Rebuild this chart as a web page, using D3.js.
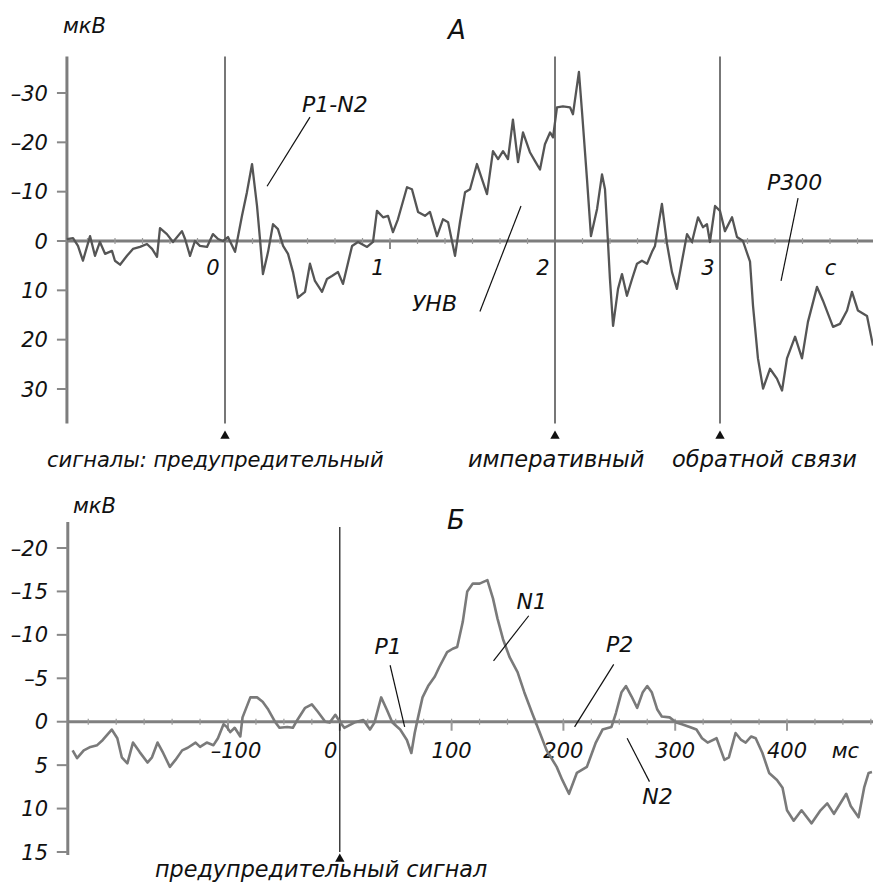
<!DOCTYPE html>
<html>
<head>
<meta charset="utf-8">
<script src="https://cdn.jsdelivr.net/npm/d3@7"></script>
<style>
  body { margin: 0; background: #fff; }
  text { font-family: "DejaVu Sans", sans-serif; font-style: italic; fill: #111; }
</style>
</head>
<body>
<div id="chart"></div>
<script>
const width = 873;
const height = 885;

// panel A: slow potentials, time in s, amplitude in µV (negative up)
const traceA = [
  [-0.958,-0.4],[-0.921,-0.6],[-0.891,1.0],[-0.861,4.0],[-0.818,-1.0],[-0.788,3.0],[-0.758,0.2],
  [-0.727,2.6],[-0.685,2.0],[-0.667,4.0],[-0.636,4.8],[-0.594,3.0],[-0.558,1.6],[-0.515,1.2],
  [-0.473,0.6],[-0.442,1.6],[-0.412,3.2],[-0.394,-2.6],[-0.352,-1.4],[-0.315,0.2],[-0.261,-2.0],
  [-0.242,-0.4],[-0.212,3.0],[-0.182,0],[-0.152,1.0],[-0.109,1.2],[-0.073,-1.4],[-0.042,-0.4],
  [-0.012,0],[0.018,-0.8],[0.061,2.2],[0.103,-5.1],[0.133,-9.9],[0.164,-15.6],[0.194,-7.1],
  [0.212,-0.4],[0.230,6.7],[0.261,2.2],[0.291,-3.4],[0.321,-2.4],[0.352,1.0],[0.382,2.6],
  [0.412,6.3],[0.442,11.5],[0.485,10.3],[0.515,4.6],[0.545,8.1],[0.588,10.3],[0.618,7.7],
  [0.648,7.1],[0.685,6.3],[0.715,8.7],[0.770,1.0],[0.806,0.2],[0.861,1.2],[0.897,0.2],
  [0.921,-6.1],[0.958,-4.8],[0.988,-5.1],[1.018,-1.8],[1.048,-4.4],[1.103,-10.9],[1.133,-10.5],
  [1.170,-5.9],[1.212,-5.1],[1.242,-5.9],[1.285,-1.0],[1.321,-4.4],[1.352,-3.8],[1.394,3.0],
  [1.424,-3.8],[1.455,-9.9],[1.485,-10.5],[1.527,-15.6],[1.558,-12.5],[1.588,-9.5],[1.624,-18.2],
  [1.655,-16.6],[1.685,-18.2],[1.715,-16.6],[1.745,-24.6],[1.776,-16.0],[1.806,-22.0],[1.848,-18.0],
  [1.879,-16.2],[1.909,-14.5],[1.939,-19.6],[1.970,-22.0],[1.988,-21.0],[2.012,-27.1],[2.048,-27.3],
  [2.091,-27.1],[2.109,-25.7],[2.145,-34.3],[2.164,-26.1],[2.194,-12.5],[2.218,-1.0],[2.255,-6.5],
  [2.285,-13.5],[2.303,-10.5],[2.321,0.2],[2.333,7.7],[2.352,17.2],[2.382,9.7],[2.406,6.7],
  [2.436,11.1],[2.467,7.7],[2.497,4.6],[2.527,4.0],[2.558,4.6],[2.588,2.2],[2.606,1.0],
  [2.648,-7.5],[2.679,0.6],[2.709,6.3],[2.739,9.7],[2.770,4.0],[2.800,-1.4],[2.830,0.2],
  [2.867,-4.8],[2.897,-2.8],[2.921,-3.4],[2.939,0.2],[2.970,-7.1],[3.000,-6.1],[3.030,-2.0],
  [3.073,-4.8],[3.103,-0.8],[3.139,0],[3.182,4.2],[3.200,13.1],[3.230,23.8],[3.261,29.9],
  [3.303,25.9],[3.345,27.9],[3.376,30.3],[3.406,23.8],[3.455,19.4],[3.497,23.8],[3.533,16.4],
  [3.588,9.3],[3.624,12.1],[3.685,17.4],[3.727,16.8],[3.770,14.1],[3.800,10.3],[3.836,14.1],
  [3.891,15.2],[3.927,21.2]
];
const yTicksA = [-30, -20, -10, 0, 10, 20, 30];
const xTicksA = [0, 1, 2, 3];
const signalsA = [0, 2, 3];
const signalNamesA = ["сигналы: предупредительный", "императивный", "обратной связи"];
const notesA = [
  { text: "P1-N2", at: [0.467, -26.1], from: [0.515, -25.1], to: [0.255, -11.1] },
  { text: "УНВ", at: [1.133, 14.1], from: [1.794, -7.1], to: [1.545, 14.3] },
  { text: "P300", at: [3.285, -10.3], from: [3.473, -8.7], to: [3.370, 8.1] }
];

// panel B: evoked potential, time in ms, amplitude in µV (negative up)
const traceB = [
  [-239,3.3],[-235,4.2],[-229,3.3],[-223,2.9],[-217,2.7],[-212,2.1],[-204,0.9],[-199,1.9],
  [-195,4.1],[-190,4.8],[-185,2.4],[-179,3.5],[-172,4.7],[-168,4.1],[-163,2.4],[-158,3.6],
  [-152,5.2],[-147,4.4],[-141,3.3],[-136,3.0],[-129,2.4],[-125,2.9],[-119,2.4],[-113,2.7],
  [-109,1.9],[-104,0.3],[-101,0.6],[-98,1.2],[-94,0.7],[-89,1.7],[-87,-0.5],[-80,-2.8],
  [-74,-2.8],[-69,-2.3],[-64,-1.4],[-58,0],[-54,0.7],[-47,0.6],[-42,0.7],[-38,-0.2],
  [-31,-1.6],[-25,-2.0],[-20,-1.2],[-13,0],[-9,0.1],[-4,-0.8],[0,0],[4,0.7],[13,0.1],
  [21,-0.2],[27,0.9],[31,0.1],[37,-2.8],[42,-1.4],[47,0.1],[54,0.9],[60,2.1],[64,3.6],
  [67,1.3],[70,-0.5],[74,-2.8],[79,-4.1],[85,-5.2],[89,-6.3],[96,-8.0],[101,-8.4],[105,-8.6],
  [110,-11.5],[114,-15.0],[119,-15.9],[125,-15.9],[132,-16.3],[137,-14.2],[141,-11.9],
  [146,-9.5],[152,-7.4],[159,-5.7],[165,-3.4],[172,-1.0],[179,1.3],[185,3.3],[194,5.2],
  [199,6.7],[205,8.3],[212,5.9],[221,5.2],[229,2.4],[235,0.9],[243,0.6],[247,-1.0],[252,-3.4],
  [256,-4.1],[261,-2.9],[266,-1.6],[271,-3.4],[275,-4.1],[279,-3.4],[284,-1.4],[288,-0.6],
  [295,-0.5],[301,0.1],[306,0.3],[313,0.6],[319,0.9],[324,1.9],[329,2.4],[337,1.9],[344,4.4],
  [348,4.1],[354,1.3],[359,2.1],[363,2.4],[368,1.7],[372,1.9],[378,3.6],[384,5.9],[391,6.7],
  [396,7.6],[400,10.2],[406,11.4],[413,10.2],[422,11.7],[430,10.2],[436,9.4],[442,10.6],
  [453,8.3],[457,9.7],[464,11.0],[469,7.6],[473,5.9],[476,5.8]
];
const yTicksB = [-20, -15, -10, -5, 0, 5, 10, 15];
const xTicksB = [-100, 0, 100, 200, 300, 400];
const signalNameB = "предупредительный сигнал";
const notesB = [
  { text: "P1", at: [31, -7.8], from: [45, -6.5], to: [58, 0.6] },
  { text: "N1", at: [158, -13.0], from: [169, -12.2], to: [137.5, -7.0] },
  { text: "P2", at: [238, -8.0], from: [245, -6.6], to: [210, 0.6] },
  { text: "N2", at: [270.5, 9.5], from: [277, 6.9], to: [257, 1.9] }
];

const fmt = (d) => (d < 0 ? "–" + Math.abs(d) : String(d));

const svg = d3
  .select("#chart")
  .append("svg")
  .attr("width", width)
  .attr("height", height);

// ---------- panel A ----------
const xA = d3.scaleLinear().domain([0, 3]).range([225, 720]);
const yA = d3.scaleLinear().domain([-30, 30]).range([93, 389]);
const x0A = xA(traceA[0][0]);
const y0A = yA(0);

const gA = svg.append("g");

// time axis
gA.append("line")
  .attr("x1", x0A).attr("x2", width)
  .attr("y1", y0A).attr("y2", y0A)
  .attr("stroke", "#7d7d7d").attr("stroke-width", 3);

gA.selectAll(".minor")
  .data(d3.range(-5, 24).map((i) => i / 6))
  .enter()
  .append("line")
  .attr("x1", (d) => xA(d)).attr("x2", (d) => xA(d))
  .attr("y1", y0A - 3).attr("y2", y0A + 3)
  .attr("stroke", "#999").attr("stroke-width", 1.2);

gA.selectAll(".major")
  .data(xTicksA)
  .enter()
  .append("line")
  .attr("x1", (d) => xA(d)).attr("x2", (d) => xA(d))
  .attr("y1", y0A).attr("y2", y0A + 8)
  .attr("stroke", "#888").attr("stroke-width", 2);

gA.selectAll(".xlab")
  .data(xTicksA)
  .enter()
  .append("text")
  .attr("x", (d) => xA(d) - 12)
  .attr("y", y0A + 34)
  .attr("text-anchor", "middle")
  .attr("font-size", 21)
  .text((d) => d);

gA.append("text")
  .attr("x", xA(3.67))
  .attr("y", y0A + 34)
  .attr("text-anchor", "middle")
  .attr("font-size", 21)
  .text("с");

// amplitude axis
gA.append("line")
  .attr("x1", x0A).attr("x2", x0A)
  .attr("y1", yA(-37.4)).attr("y2", yA(37))
  .attr("stroke", "#7d7d7d").attr("stroke-width", 3);

gA.selectAll(".ytick")
  .data(yTicksA)
  .enter()
  .append("line")
  .attr("x1", x0A - 10).attr("x2", x0A)
  .attr("y1", (d) => yA(d)).attr("y2", (d) => yA(d))
  .attr("stroke", "#888").attr("stroke-width", 2);

gA.selectAll(".ylab")
  .data(yTicksA)
  .enter()
  .append("text")
  .attr("x", x0A - 19)
  .attr("y", (d) => yA(d))
  .attr("dy", "0.36em")
  .attr("text-anchor", "end")
  .attr("font-size", 21)
  .text(fmt);

gA.append("text").attr("x", 63).attr("y", 33).attr("font-size", 21).text("мкВ");
gA.append("text").attr("x", 448).attr("y", 39).attr("font-size", 26).text("А");

// signal markers
gA.selectAll(".sig")
  .data(signalsA)
  .enter()
  .append("line")
  .attr("x1", (d) => xA(d)).attr("x2", (d) => xA(d))
  .attr("y1", yA(-37.4)).attr("y2", yA(37))
  .attr("stroke", "#777").attr("stroke-width", 2);

gA.selectAll(".tri")
  .data(signalsA)
  .enter()
  .append("path")
  .attr("d", d3.symbol(d3.symbolTriangle, 38))
  .attr("transform", (d) => `translate(${xA(d)},436)`)
  .attr("fill", "#111");

const sigDx = [-178, -87, -48];
const sigSize = [21, 22.5, 22.5];
gA.selectAll(".signame")
  .data(signalsA)
  .enter()
  .append("text")
  .attr("x", (d, i) => xA(d) + sigDx[i])
  .attr("y", 467)
  .attr("font-size", (d, i) => sigSize[i])
  .text((d, i) => signalNamesA[i]);

// trace
gA.append("path")
  .datum(traceA)
  .attr("fill", "none")
  .attr("stroke", "#555")
  .attr("stroke-width", 2.3)
  .attr("stroke-linejoin", "round")
  .attr("d", d3.line().x((d) => xA(d[0])).y((d) => yA(d[1])));

// annotations
notesA.forEach((n) => {
  gA.append("line")
    .attr("x1", xA(n.from[0])).attr("y1", yA(n.from[1]))
    .attr("x2", xA(n.to[0])).attr("y2", yA(n.to[1]))
    .attr("stroke", "#111").attr("stroke-width", 1.2);
  gA.append("text")
    .attr("x", xA(n.at[0])).attr("y", yA(n.at[1]))
    .attr("font-size", 22)
    .text(n.text);
});

// ---------- panel B ----------
const xB = d3.scaleLinear().domain([-100, 400]).range([228, 787]);
const yB = d3.scaleLinear().domain([-20, 15]).range([548, 852]);
const x0B = xB(-243.3);
const y0B = yB(0);

const gB = svg.append("g");

gB.append("line")
  .attr("x1", x0B).attr("x2", width)
  .attr("y1", y0B).attr("y2", y0B)
  .attr("stroke", "#808080").attr("stroke-width", 3);

gB.selectAll(".minor")
  .data(d3.range(-225, 476, 25))
  .enter()
  .append("line")
  .attr("x1", (d) => xB(d)).attr("x2", (d) => xB(d))
  .attr("y1", y0B - 3).attr("y2", y0B + 3)
  .attr("stroke", "#999").attr("stroke-width", 1.2);

gB.selectAll(".major")
  .data(xTicksB)
  .enter()
  .append("line")
  .attr("x1", (d) => xB(d)).attr("x2", (d) => xB(d))
  .attr("y1", y0B).attr("y2", y0B + 9)
  .attr("stroke", "#999").attr("stroke-width", 2);

const labDxB = { "-100": 8, "0": -9 };
gB.selectAll(".xlab")
  .data(xTicksB)
  .enter()
  .append("text")
  .attr("x", (d) => xB(d) + (labDxB[d] || 0))
  .attr("y", y0B + 36)
  .attr("text-anchor", "middle")
  .attr("font-size", 21)
  .text(fmt);

gB.append("text")
  .attr("x", xB(440))
  .attr("y", y0B + 36)
  .attr("font-size", 21)
  .text("мс");

gB.append("line")
  .attr("x1", x0B).attr("x2", x0B)
  .attr("y1", yB(-23)).attr("y2", yB(15.35))
  .attr("stroke", "#808080").attr("stroke-width", 3);

gB.selectAll(".ytick")
  .data(yTicksB)
  .enter()
  .append("line")
  .attr("x1", x0B - 11).attr("x2", x0B)
  .attr("y1", (d) => yB(d)).attr("y2", (d) => yB(d))
  .attr("stroke", "#888").attr("stroke-width", 2);

gB.selectAll(".ylab")
  .data(yTicksB)
  .enter()
  .append("text")
  .attr("x", 48)
  .attr("y", (d) => yB(d))
  .attr("dy", "0.36em")
  .attr("text-anchor", "end")
  .attr("font-size", 21)
  .text(fmt);

gB.append("text").attr("x", 73).attr("y", 513).attr("font-size", 21).text("мкВ");
gB.append("text").attr("x", 447).attr("y", 529).attr("font-size", 26).text("Б");

// stimulus onset
gB.append("line")
  .attr("x1", xB(0)).attr("x2", xB(0))
  .attr("y1", 527).attr("y2", 852)
  .attr("stroke", "#111").attr("stroke-width", 1.2);

gB.append("path")
  .attr("d", d3.symbol(d3.symbolTriangle, 38))
  .attr("transform", `translate(${xB(0)},859)`)
  .attr("fill", "#111");

gB.append("text")
  .attr("x", 155)
  .attr("y", 877)
  .attr("font-size", 22.3)
  .text(signalNameB);

gB.append("path")
  .datum(traceB)
  .attr("fill", "none")
  .attr("stroke", "#7a7a7a")
  .attr("stroke-width", 2.6)
  .attr("stroke-linejoin", "round")
  .attr("d", d3.line().x((d) => xB(d[0])).y((d) => yB(d[1])));

notesB.forEach((n) => {
  gB.append("line")
    .attr("x1", xB(n.from[0])).attr("y1", yB(n.from[1]))
    .attr("x2", xB(n.to[0])).attr("y2", yB(n.to[1]))
    .attr("stroke", "#111").attr("stroke-width", 1.2);
  gB.append("text")
    .attr("x", xB(n.at[0])).attr("y", yB(n.at[1]))
    .attr("font-size", 22)
    .text(n.text);
});
</script>
</body>
</html>
